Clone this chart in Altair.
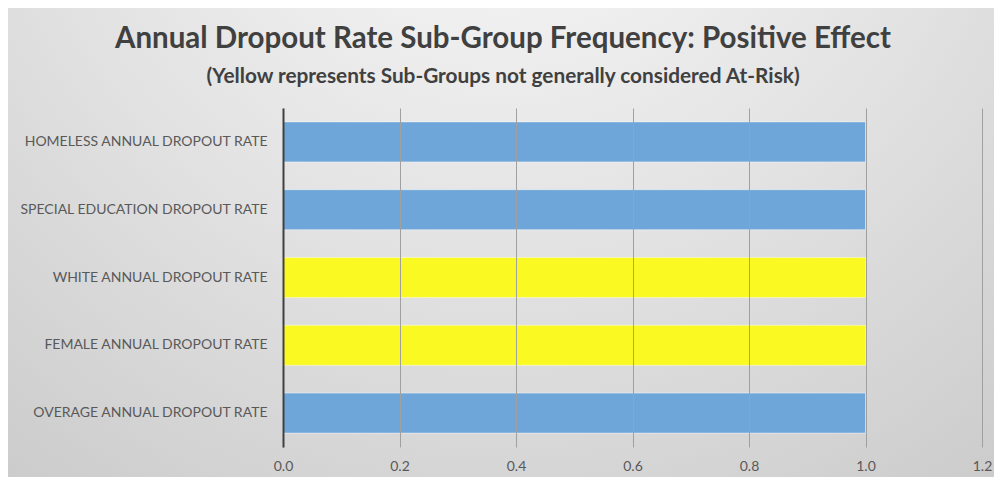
import altair as alt
import pandas as pd

categories = [
    "HOMELESS ANNUAL DROPOUT RATE",
    "SPECIAL EDUCATION DROPOUT RATE",
    "WHITE ANNUAL DROPOUT RATE",
    "FEMALE ANNUAL DROPOUT RATE",
    "OVERAGE ANNUAL DROPOUT RATE",
]
values = [1.0, 1.0, 1.0, 1.0, 1.0]
groups = ["At-Risk", "At-Risk", "Not At-Risk", "Not At-Risk", "At-Risk"]
x_ticks = [0.0, 0.2, 0.4, 0.6, 0.8, 1.0, 1.2]
title_text = "Annual Dropout Rate Sub-Group Frequency: Positive Effect"
subtitle_text = "(Yellow represents Sub-Groups not generally considered At-Risk)"

df = pd.DataFrame({"category": categories, "value": values, "group": groups})

W, H = 699, 339
PL, PT, PR, PB = 275, 100, 12, 30
CX = 503 - 8 - PL  # page centre in plot coordinates

one = pd.DataFrame({"a": [0]})

bg = alt.Chart(one).mark_rect(
    color={
        "gradient": "radial",
        "x1": 0.5, "y1": 0.05, "r1": 0,
        "x2": 0.5, "y2": 0.05, "r2": 0.95,
        "stops": [
            {"offset": 0, "color": "#fbfbfb"},
            {"offset": 0.5, "color": "#e2e2e2"},
            {"offset": 1, "color": "#c6c6c6"},
        ],
    }
).encode(
    x=alt.value(-PL), x2=alt.value(W + PR),
    y=alt.value(-PT), y2=alt.value(H + PB),
)

title = alt.Chart(one).mark_text(
    text=title_text, font="Lato", fontSize=29.5, fontWeight="bold",
    color="#404040", align="center", baseline="middle",
).encode(x=alt.value(CX), y=alt.value(-69))

subtitle = alt.Chart(one).mark_text(
    text=subtitle_text, font="Lato", fontSize=20.8, fontWeight="bold",
    color="#404040", align="center", baseline="middle",
).encode(x=alt.value(CX), y=alt.value(-31))

bars = alt.Chart(df).mark_bar(
    stroke="#ffffff", strokeOpacity=0.45, strokeWidth=1
).encode(
    x=alt.X(
        "value:Q",
        scale=alt.Scale(domain=[0, 1.2], nice=False),
        axis=alt.Axis(
            values=x_ticks, format=".1f", title=None, grid=True,
            gridColor="#a0a0a0", gridWidth=1, domain=False, ticks=False,
            labelFont="Lato", labelFontSize=14, labelColor="#595959",
            labelPadding=12, labelFlush=False, zindex=1,
        ),
    ),
    y=alt.Y(
        "category:N", sort=categories,
        scale=alt.Scale(paddingInner=0.41, paddingOuter=0.205),
        axis=alt.Axis(
            title=None, grid=False, ticks=False, domain=True,
            domainColor="#404040", domainWidth=2,
            labelFont="Lato", labelFontSize=14, labelColor="#595959",
            labelPadding=16, labelLimit=400, zindex=1,
        ),
    ),
    color=alt.Color(
        "group:N",
        scale=alt.Scale(domain=["At-Risk", "Not At-Risk"], range=["#6fa6d9", "#fafa22"]),
        legend=None,
    ),
)

chart = alt.layer(bg, bars, title, subtitle).properties(
    width=W, height=H,
    padding={"left": PL, "top": PT, "right": PR, "bottom": PB},
    autosize=alt.AutoSizeParams(type="none"),
).configure_view(stroke=None).configure(background="#ffffff")

chart.save("out.html", embed_options={"renderer": "svg", "actions": False})
